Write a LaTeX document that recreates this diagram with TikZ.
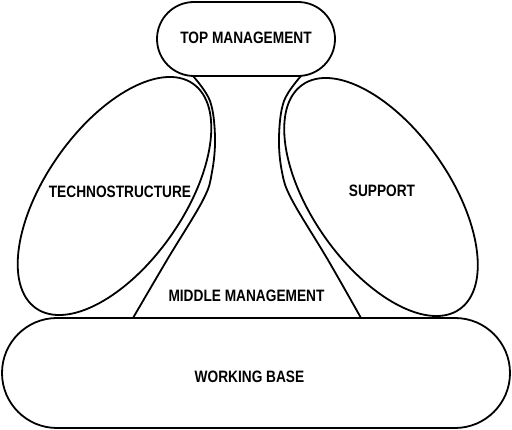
\documentclass[tikz,border=0pt]{standalone}
\usepackage{fontspec}
\newfontfamily\labfont[FakeStretch=0.83]{Liberation Sans}
\begin{document}
\begin{tikzpicture}[x=1pt,y=-1pt,
  outline/.style={line width=1.8pt},
  lab/.style={font=\labfont\bfseries\fontsize{16.5}{18}\selectfont, inner sep=0pt},
  stadium/.style={draw, outline, rectangle, inner sep=0pt}]
\fill[white] (0,0) rectangle (512,430);
\useasboundingbox (0,0) rectangle (512,430);
% top management
\node[stadium, rounded corners=37pt, minimum width=178pt, minimum height=74pt] (top) at (246,39) {};
\node[lab] (toplab) at (246,37.5) {TOP MANAGEMENT};
% working base
\node[stadium, rounded corners=55pt, minimum width=508pt, minimum height=110pt] (base) at (256,373) {};
\node[lab] (baselab) at (249.5,376.5) {WORKING BASE};
% technostructure
\coordinate (tc) at (114.5,196);
\draw[outline, rotate around={55:(tc)}] (tc) ellipse [x radius=137pt, y radius=69pt];
\node[lab] (techlab) at (120,191.5) {TECHNOSTRUCTURE};
% support
\coordinate (sc) at (381,197);
\draw[outline, rotate around={-55:(sc)}] (sc) ellipse [x radius=137pt, y radius=69pt];
\node[lab] (supplab) at (382,190.5) {SUPPORT};
% middle management
\draw[outline] plot[smooth, tension=0.6] coordinates {(193,76) (210,101) (215,137) (212,172) (203,200) (167,260) (133,318)};
\draw[outline] plot[smooth, tension=0.6] coordinates {(301,76) (284,101) (279,137) (282,172) (292,200) (328,260) (361,318)};
\node[lab] (midlab) at (246.5,296) {MIDDLE MANAGEMENT};
\end{tikzpicture}
\end{document}
